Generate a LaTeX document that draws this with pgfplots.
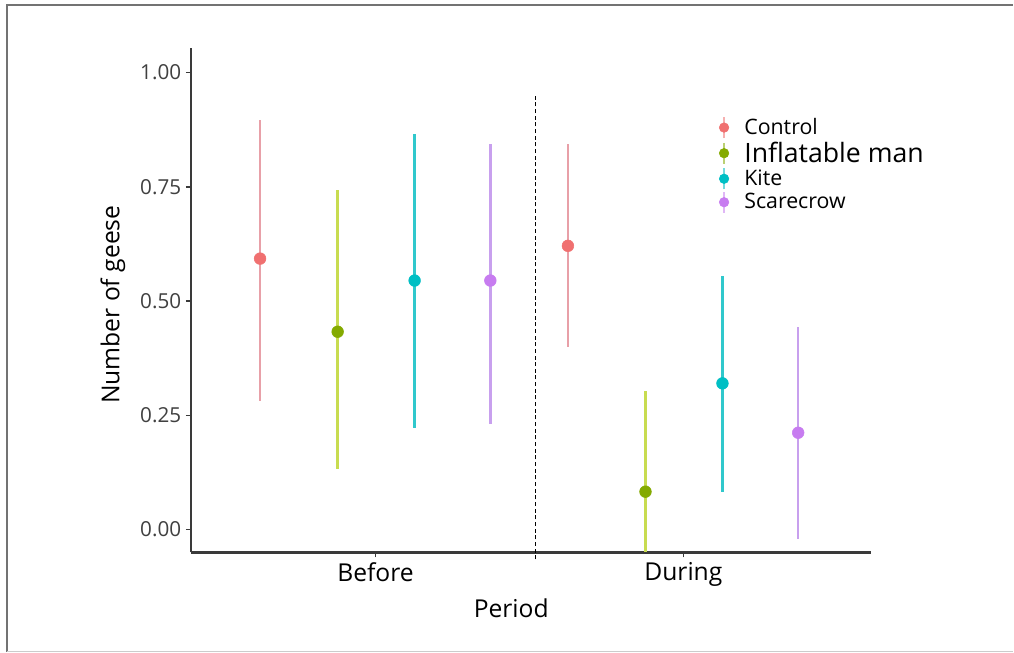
\documentclass[border=0pt]{standalone}
\usepackage{fontspec}
\setmainfont{Open Sans}
\usepackage{pgfplots}
\pgfplotsset{compat=1.18}
\definecolor{cC}{HTML}{F07070}
\definecolor{cI}{HTML}{84AA00}
\definecolor{cK}{HTML}{00BFC4}
\definecolor{cS}{HTML}{C77CF0}
\definecolor{cCl}{HTML}{E8A0A8}
\definecolor{cIl}{HTML}{C8DC50}
\definecolor{cKl}{HTML}{30C8CC}
\definecolor{cSl}{HTML}{C8A0EE}
\definecolor{axgray}{HTML}{3A3A3A}
\begin{document}
\begin{tikzpicture}
\fill[white] (0pt,0pt) rectangle (760.5pt,489.75pt);
\draw[line width=1.5pt, color=black!55] (5.25pt,0.6pt) -- (5.25pt,486pt) -- (760.5pt,486pt);
\draw[line width=1pt, color=black!20] (5.25pt,0.6pt) -- (760.5pt,0.6pt);
\begin{axis}[
  at={(143.25pt,75pt)}, anchor=south west,
  scale only axis, width=510.75pt, height=378.75pt,
  xmin=0.40, xmax=2.61, ymin=-0.05, ymax=1.054,
  axis x line*=bottom, axis y line*=left,
  axis line style={axgray, line width=1.6pt},
  clip=false,
  xtick={1,2}, xticklabels={Before,During},
  ytick={0,0.25,0.5,0.75,1},
  yticklabel style={font=\fontsize{15.5}{17}\selectfont, text=black!75},
  yticklabel style={/pgf/number format/.cd, fixed, fixed zerofill, precision=2, assume math mode=true},
  xticklabel style={font=\fontsize{18.5}{20}\selectfont, text=black},
  tick align=outside, major tick length=3.75pt,
  tick style={axgray, line width=1.1pt},
  xlabel={Period}, ylabel={Number of geese},
  xlabel style={font=\fontsize{18.5}{20}\selectfont, at={(axis description cs:0.471,-0.111)}, anchor=center},
  ylabel style={font=\fontsize{18.5}{20}\selectfont, at={(axis description cs:-0.1145,0.491)}, anchor=center},
  legend style={at={(axis description cs:0.776,0.866)}, anchor=north west, draw=none, fill=none,
    font=\fontsize{16}{18}\selectfont, row sep=0pt, inner sep=0pt, cells={anchor=west}},
  legend image code/.code={\draw[line width=1.6pt, opacity=0.55] (0pt,-8pt) -- (0pt,8pt); \fill (0pt,0pt) circle (3.6pt); \path (13pt,0pt);},
  error bars/y dir=both, error bars/y explicit, error bars/error mark=none,
]
\addplot[black, densely dashed, line width=0.7pt, forget plot] coordinates {(1.52,-0.065) (1.52,0.95)};
\addplot[only marks, mark=*, mark size=4.4pt, color=cC,
  error bars/error bar style={line width=1.8pt, color=cCl}]
  coordinates {(0.625,0.593) += (0,0.304) -= (0,0.311) (1.625,0.621) += (0,0.223) -= (0,0.221)};
\addlegendentry{Control}
\addplot[only marks, mark=*, mark size=4.4pt, color=cI,
  error bars/error bar style={line width=1.8pt, color=cIl}]
  coordinates {(0.877,0.433) += (0,0.311) -= (0,0.300) (1.877,0.083) += (0,0.221) -= (0,0.133)};
\addlegendentry{\fontsize{20}{22}\selectfont Inflatable man}
\addplot[only marks, mark=*, mark size=4.4pt, color=cK,
  error bars/error bar style={line width=1.8pt, color=cKl}]
  coordinates {(1.127,0.545) += (0,0.321) -= (0,0.322) (2.127,0.320) += (0,0.236) -= (0,0.237)};
\addlegendentry{Kite}
\addplot[only marks, mark=*, mark size=4.4pt, color=cS,
  error bars/error bar style={line width=1.8pt, color=cSl}]
  coordinates {(1.373,0.545) += (0,0.299) -= (0,0.313) (2.373,0.212) += (0,0.232) -= (0,0.232)};
\addlegendentry{Scarecrow}
\end{axis}
\end{tikzpicture}
\end{document}
